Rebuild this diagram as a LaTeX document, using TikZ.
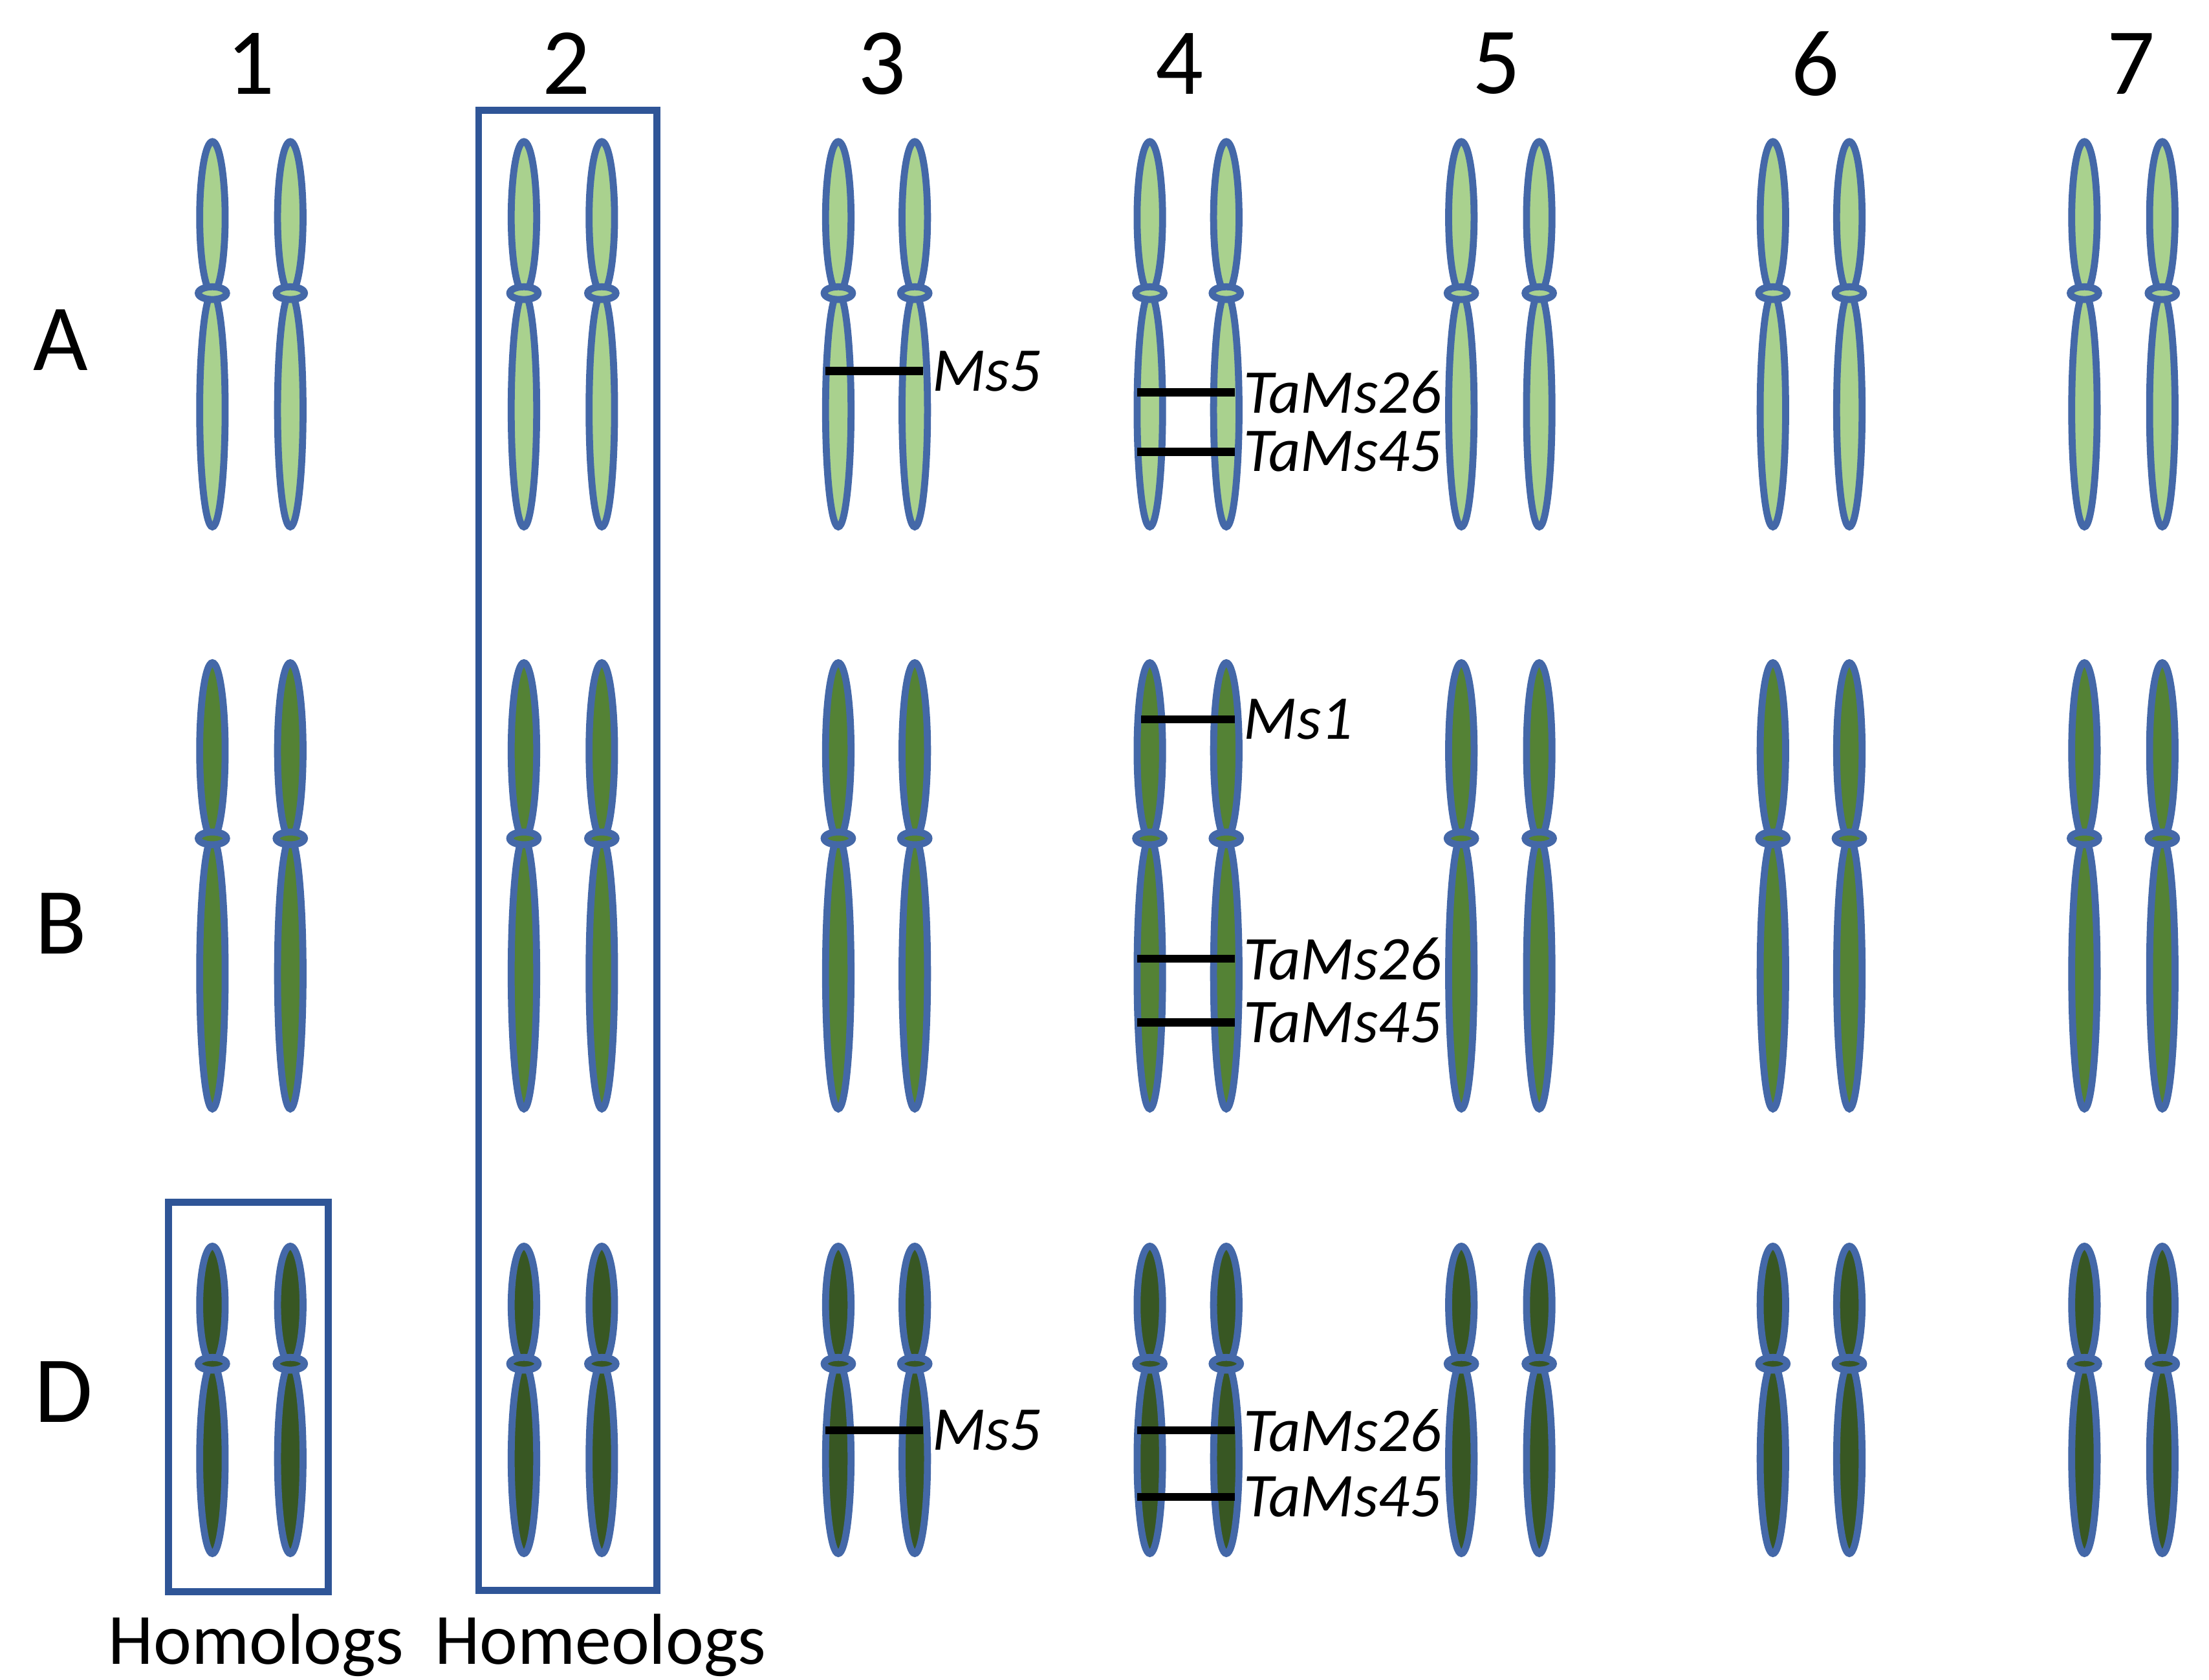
\documentclass[tikz,border=0pt]{standalone}
\usepackage{fontspec}
\setmainfont{Carlito}
\definecolor{chrA}{HTML}{A9D18E}
\definecolor{chrB}{HTML}{548235}
\definecolor{chrD}{HTML}{385723}
\definecolor{rim}{HTML}{4468A8}
\definecolor{frame}{HTML}{2F5597}
% one chromosome: x, top, centromere, bottom, fill colour
\newcommand{\chromo}[5]{%
  \draw[rim, line width=1.4pt, fill=#5] (#1,{-(#2+#3)/200}) ellipse ({0.09} and {(#3-#2)/200});
  \draw[rim, line width=1.4pt, fill=#5] (#1,{-(#3+#4)/200}) ellipse ({0.09} and {(#4-#3)/200});
  \draw[rim, line width=1.4pt, fill=#5] (#1,{-#3/100}) ellipse (0.1 and 0.045);
}
\begin{document}
\begin{tikzpicture}[
    num/.style={font=\fontsize{19}{22}\selectfont},
    gene/.style={font=\fontsize{12.5}{15}\selectfont\itshape, anchor=west, inner sep=1pt},
    marker/.style={line width=1.6pt, black},
    groupbox/.style={draw=frame, line width=1.4pt}
  ]
  \useasboundingbox (0,0) rectangle (15.6,-11.86);

  % column numbers and genome letters
  \foreach \n/\x in {1/1.77,2/4.00,3/6.23,4/8.33,5/10.57,6/12.82,7/15.05}
    \node[num] (col\n) at (\x,-0.45) {\n};
  \node[num] (rowA) at (0.43,-2.40) {A};
  \node[num] (rowB) at (0.43,-6.52) {B};
  \node[num] (rowD) at (0.45,-9.83) {D};

  % chromosome pairs
  \foreach \l/\r in {1.50/2.05,3.70/4.25,5.92/6.46,8.12/8.66,10.32/10.87,12.52/13.06,14.72/15.27} {
    \chromo{\l}{100}{207}{372}{chrA}
    \chromo{\r}{100}{207}{372}{chrA}
    \chromo{\l}{468}{592}{783}{chrB}
    \chromo{\r}{468}{592}{783}{chrB}
    \chromo{\l}{880}{963}{1097}{chrD}
    \chromo{\r}{880}{963}{1097}{chrD}
  }

  % homologs and homeologs
  \draw[groupbox] (3.38,-0.78) rectangle (4.64,-11.23);
  \draw[groupbox] (1.19,-8.49) rectangle (2.32,-11.24);
  \node[font=\fontsize{14.5}{17}\selectfont] (homo) at (1.81,-11.62) {Homologs};
  \node[font=\fontsize{14.5}{17}\selectfont] (homeo) at (4.24,-11.62) {Homeologs};

  % genes
  \draw[marker] (5.83,-2.62) -- (6.52,-2.62) node[gene] (msA) {Ms5};
  \draw[marker] (8.03,-2.77) -- (8.72,-2.77) node[gene] (t26A) {TaMs26};
  \draw[marker] (8.03,-3.19) -- (8.72,-3.19) node[gene] (t45A) {TaMs45};
  \draw[marker] (8.06,-5.08) -- (8.72,-5.08) node[gene] (ms1B) {Ms1};
  \draw[marker] (8.03,-6.77) -- (8.72,-6.77) node[gene] (t26B) {TaMs26};
  \draw[marker] (8.03,-7.22) -- (8.72,-7.22) node[gene] (t45B) {TaMs45};
  \draw[marker] (5.83,-10.10) -- (6.52,-10.10) node[gene] (msD) {Ms5};
  \draw[marker] (8.03,-10.10) -- (8.72,-10.10) node[gene] (t26D) {TaMs26};
  \draw[marker] (8.03,-10.57) -- (8.72,-10.57) node[gene] (t45D) {TaMs45};
\end{tikzpicture}
\end{document}
